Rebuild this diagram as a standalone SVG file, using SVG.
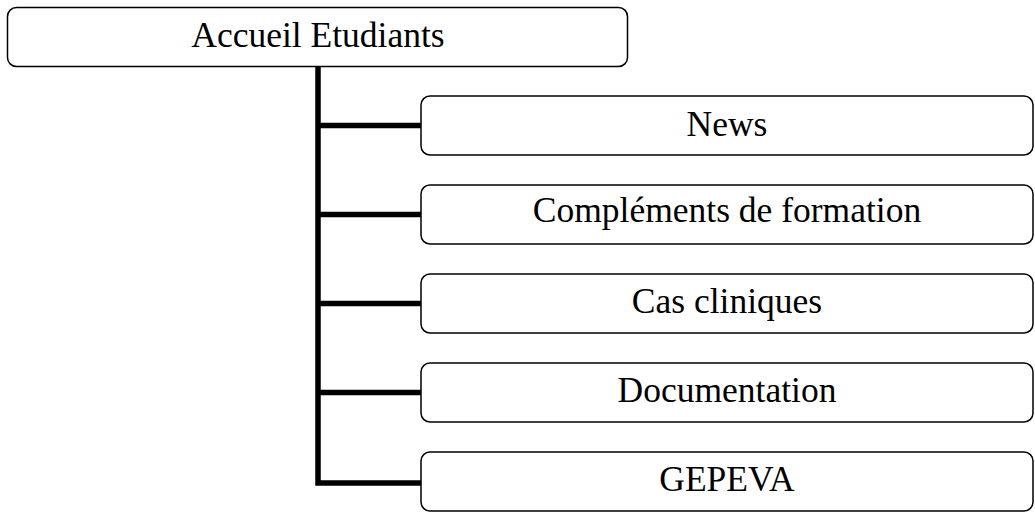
<svg xmlns="http://www.w3.org/2000/svg" width="1035" height="513" viewBox="0 0 1035 513">
<style>
.box{fill:#fff;stroke:#000;stroke-width:1.5}
.lbl{font-family:"Liberation Serif","Times New Roman",serif;font-size:35.5px;fill:#000;text-anchor:middle}
.con{fill:none;stroke:#000;stroke-width:5.5}
</style>
<rect width="1035" height="513" fill="#fff"/>
<g id="connectors">
<path class="con" d="M318,67 V483 H421"/>
<path class="con" d="M318,125.5 H421 M318,214.5 H421 M318,303.5 H421 M318,392.5 H421"/>
</g>
<g id="root"><rect class="box" x="7.5" y="7.5" width="620" height="59" rx="9"/><text class="lbl" x="318" y="47">Accueil Etudiants</text></g>
<g id="news"><rect class="box" x="421" y="96" width="612" height="59" rx="9"/><text class="lbl" x="727" y="136">News</text></g>
<g id="complements"><rect class="box" x="421" y="185" width="612" height="59" rx="9"/><text class="lbl" x="727" y="222">Compléments de formation</text></g>
<g id="cas"><rect class="box" x="421" y="274" width="612" height="59" rx="9"/><text class="lbl" x="727" y="313">Cas cliniques</text></g>
<g id="documentation"><rect class="box" x="421" y="363" width="612" height="59" rx="9"/><text class="lbl" x="727" y="402">Documentation</text></g>
<g id="gepeva"><rect class="box" x="421" y="452" width="612" height="59" rx="9"/><text class="lbl" x="727" y="491">GEPEVA</text></g>
</svg>
